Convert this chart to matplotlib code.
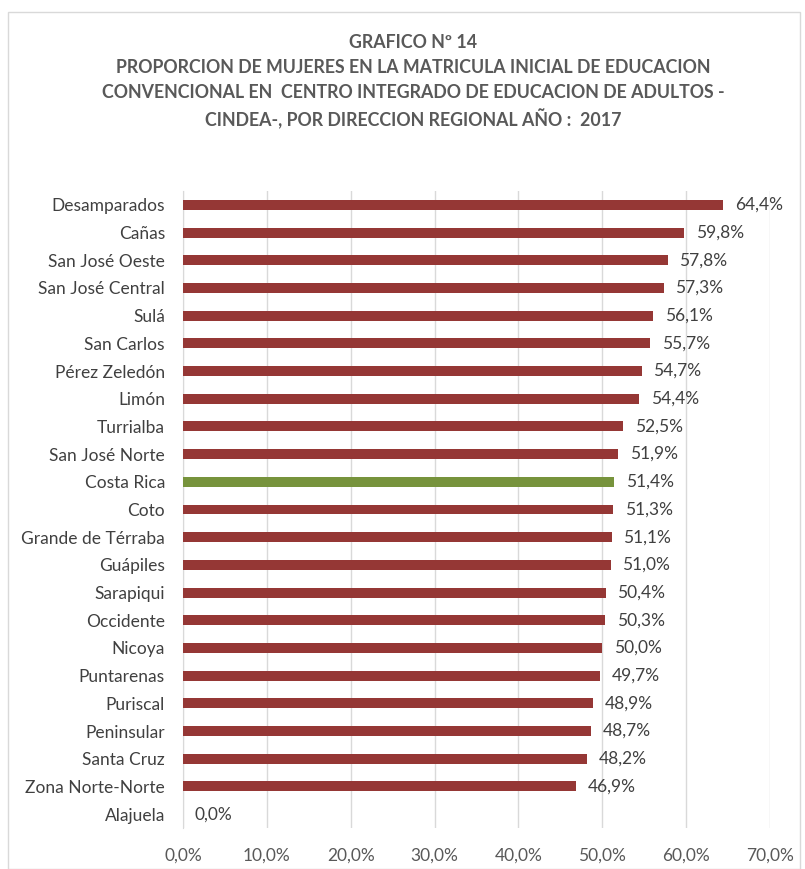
import matplotlib.pyplot as plt
from matplotlib.patches import Rectangle

regiones = ["Desamparados", "Cañas", "San José Oeste", "San José Central", "Sulá",
            "San Carlos", "Pérez Zeledón", "Limón", "Turrialba", "San José Norte",
            "Costa Rica", "Coto", "Grande de Térraba", "Guápiles", "Sarapiqui",
            "Occidente", "Nicoya", "Puntarenas", "Puriscal", "Peninsular",
            "Santa Cruz", "Zona Norte-Norte", "Alajuela"]
porcentajes = [64.4, 59.8, 57.8, 57.3, 56.1, 55.7, 54.7, 54.4, 52.5, 51.9,
               51.4, 51.3, 51.1, 51.0, 50.4, 50.3, 50.0, 49.7, 48.9, 48.7,
               48.2, 46.9, 0.0]
ticks = [0, 10, 20, 30, 40, 50, 60, 70]

plt.rcParams['font.family'] = ['Lato', 'DejaVu Sans']

fig = plt.figure(figsize=(8.05, 8.69), dpi=100)
ax = fig.add_axes([183 / 805, 1 - 828 / 869, (770 - 183) / 805, (828 - 191) / 869])

fig.patches.append(Rectangle((8 / 805, 0), 792 / 805, 1 - 12 / 869, transform=fig.transFigure,
                             fill=False, edgecolor='#d9d9d9', linewidth=1))

colores = ['#77933C' if r == "Costa Rica" else '#953735' for r in regiones]
y = list(range(len(regiones)))
ax.barh(y, porcentajes, height=0.36, color=colores, zorder=3)

for yi, v in zip(y, porcentajes):
    ax.text(v + 1.4, yi, f"{v:.1f}%".replace('.', ','), va='center', ha='left',
            fontsize=12.5, color='#404040')

ax.set_xlim(0, 70)
ax.set_ylim(len(regiones) - 0.5, -0.5)
ax.set_yticks(y)
ax.set_yticklabels(regiones, fontsize=12.5, color='#404040')
ax.set_xticks(ticks)
ax.set_xticklabels([f"{t:.1f}%".replace('.', ',') for t in ticks], fontsize=12.5, color='#595959')
ax.tick_params(axis='y', length=0, pad=13)
ax.tick_params(axis='x', length=0, pad=14)
ax.grid(axis='x', color='#d9d9d9', linewidth=1, zorder=0)
for s in ['top', 'right', 'bottom']:
    ax.spines[s].set_visible(False)
ax.spines['left'].set_color('#d9d9d9')

titulo = ["GRAFICO Nº 14",
          "PROPORCION DE MUJERES EN LA MATRICULA INICIAL DE EDUCACION",
          "CONVENCIONAL EN  CENTRO INTEGRADO DE EDUCACION DE ADULTOS -",
          "CINDEA-, POR DIRECCION REGIONAL AÑO :  2017"]
for i, linea in enumerate(titulo):
    fig.text(413 / 805, 1 - (42 + i * 25.5) / 869, linea, ha='center', va='center',
             fontsize=12.8, fontweight='bold', color='#595959')

fig.savefig('out.png', dpi=100)
